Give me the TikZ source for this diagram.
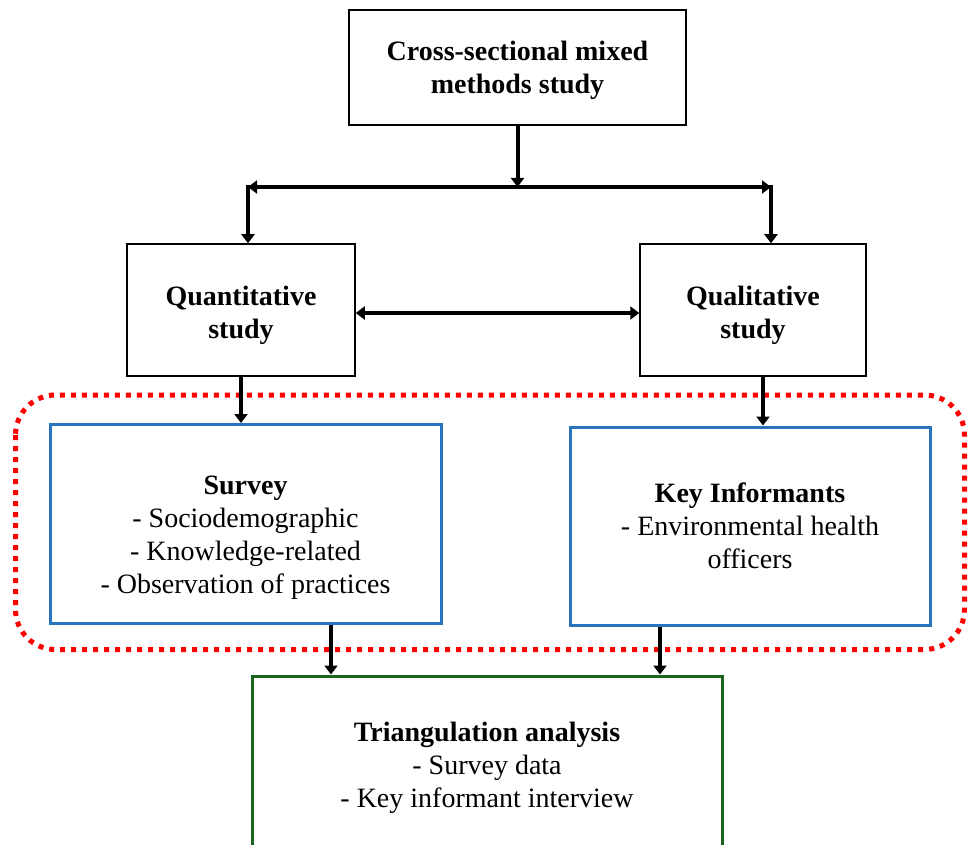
\documentclass[tikz,border=0pt]{standalone}
\usepackage{fontspec}
\setmainfont{Liberation Serif}
\usetikzlibrary{positioning,arrows.meta}

\definecolor{boxblue}{RGB}{40,115,190}
\definecolor{boxgreen}{RGB}{25,100,30}

% move the lines of a node down without moving its border
\newcommand{\shiftdown}[2]{\raisebox{-#1}[\height][\depth]{\begin{tabular}{@{}c@{}}#2\end{tabular}}}

\begin{document}
\begin{tikzpicture}[x=1pt,y=-1pt,
  box/.style={draw,line width=1.5pt,align=center,font=\fontsize{28}{33}\selectfont},
  arr/.style={line width=4pt,-{Triangle[width=13pt,length=9pt]}},
  twoarr/.style={line width=4pt,{Triangle[width=13pt,length=9pt]}-{Triangle[width=13pt,length=9pt]}}]
  \useasboundingbox (0,0) rectangle (975,845);

  \node[box,minimum width=337pt,minimum height=115pt] (study) at (517.5,67.5)
    {\shiftdown{3pt}{\textbf{Cross-sectional mixed}\\\textbf{methods study}}};
  \node[box,minimum width=228pt,minimum height=132pt] (quant) at (241,310)
    {\shiftdown{5pt}{\textbf{Quantitative}\\\textbf{study}}};
  \node[box,minimum width=226pt,minimum height=132pt] (qual) at (753,310)
    {\shiftdown{5pt}{\textbf{Qualitative}\\\textbf{study}}};

  \node[box,draw=boxblue,line width=3pt,minimum width=391pt,minimum height=199pt] (survey) at (245.5,524)
    {\shiftdown{13pt}{\textbf{Survey}\\- Sociodemographic\\- Knowledge-related\\- Observation of practices}};
  \node[box,draw=boxblue,line width=3pt,minimum width=360pt,minimum height=198pt] (key) at (750,526)
    {\textbf{Key Informants}\\- Environmental health\\officers};
  \node[box,draw=boxgreen,line width=3pt,minimum width=470pt,minimum height=184pt] (tri) at (487,768)
    {\textbf{Triangulation analysis}\\- Survey data\\- Key informant interview};

  % group frame
  \draw[red,line width=5pt,dash pattern=on 5pt off 6pt,rounded corners=40pt]
    ([shift={(-33,-28)}]survey.north west) rectangle ([shift={(33,23)}]key.south east);

  % split
  \coordinate (splitL) at (248,187);
  \coordinate (splitR) at (771,187);
  \draw[arr] (study.south) -- (study.south |- splitL);
  \draw[twoarr] (splitL) -- (splitR);
  \draw[arr] ([yshift=2pt]splitL) -- (splitL |- quant.north);
  \draw[arr] ([yshift=2pt]splitR) -- (splitR |- qual.north);

  \draw[twoarr] ([yshift=-3pt]quant.east) -- ([yshift=-3pt]qual.west);

  \draw[arr] (quant.south) -- (quant.south |- survey.north);
  \draw[arr] ([xshift=10pt]qual.south) -- ([xshift=10pt]qual.south |- key.north);

  \draw[arr] ([xshift=85.5pt]survey.south) -- ([xshift=85.5pt]survey.south |- tri.north);
  \draw[arr] ([xshift=-90pt]key.south) -- ([xshift=-90pt]key.south |- tri.north);
\end{tikzpicture}
\end{document}
